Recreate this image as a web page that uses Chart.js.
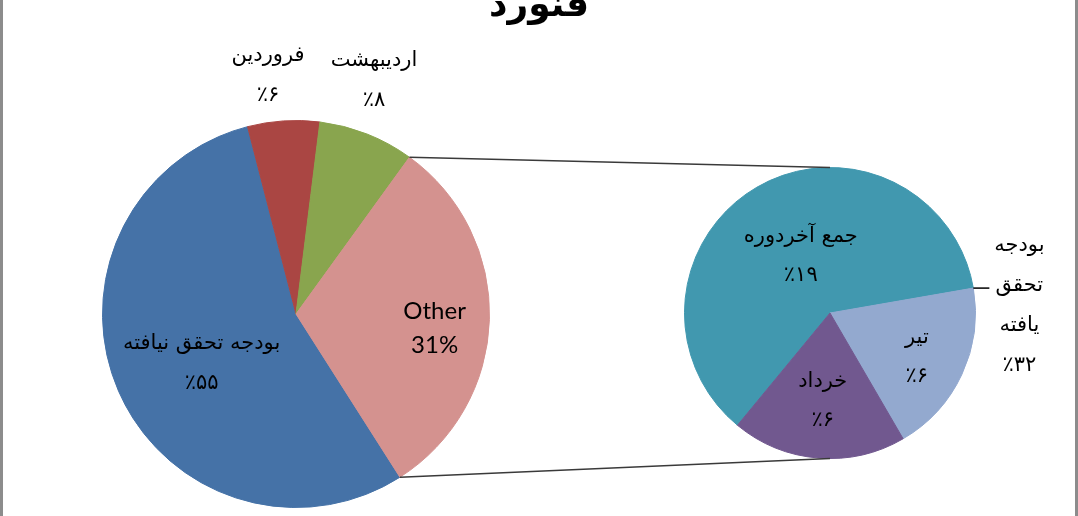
<!DOCTYPE html>
<html>
<head>
<meta charset="utf-8">
<script src="https://cdn.jsdelivr.net/npm/chart.js@4.4.1/dist/chart.umd.min.js"></script>
<style>
  html, body { margin: 0; padding: 0; background: #fff; }
  #wrap { position: relative; width: 1078px; height: 516px; overflow: hidden; background: #fff; }
  #wrap canvas { position: absolute; }
  #frameL { position: absolute; left: 0; top: 0; width: 3px; height: 516px; background: #8c8c8c; }
  #frameR { position: absolute; left: 1075px; top: 0; width: 3px; height: 516px; background: #8c8c8c; }
</style>
</head>
<body>
<div id="wrap">
  <canvas id="mainPie" width="388" height="388" style="left:102px;top:120px"></canvas>
  <canvas id="subPie" width="292" height="292" style="left:684px;top:167px"></canvas>
  <canvas id="overlay" width="1078" height="516" style="left:0;top:0;pointer-events:none"></canvas>
  <div id="frameL"></div>
  <div id="frameR"></div>
</div>
<script>
// ---- data ----
const chartTitle = 'فنورد';
const mainLabels = ['بودجه تحقق نیافته', 'فروردین', 'اردیبهشت', 'Other'];
const mainValues = [55, 6, 8, 31];
const mainPctText = ['٪۵۵', '٪۶', '٪۸', '31%'];
const subLabels = ['جمع آخردوره', 'تیر', 'خرداد'];
const subValues = [19, 6, 6];
const subPctText = ['٪۱۹', '٪۶', '٪۶'];
const extraLabelLines = ['بودجه', 'تحقق', 'یافته', '٪۳۲'];

// ---- styles ----
const mainColors = ['#4572A7', '#AA4643', '#89A54E', '#D4928F'];
const subColors = ['#4198AF', '#93A9CF', '#71588F'];
const arabicFont = '21px "DejaVu Sans"';
const latinFont = '24px Lato';
// label placement: radial fraction of radius and angle shift (deg) from slice middle
const mainLabelPos = [{r: 0.55, da: -4}, {r: 1.24, da: -3}, {r: 1.27, da: -3}, {r: 0.72, da: 4}];
const subLabelPos = [{r: 0.44, da: 3}, {r: 0.67, da: 2}, {r: 0.61, da: 0}];

function pieConfig(labels, values, colors, rotation) {
  return {
    type: 'pie',
    data: { labels: labels, datasets: [{ data: values, backgroundColor: colors, borderColor: colors, borderWidth: 1 }] },
    options: {
      responsive: false, animation: false, rotation: rotation,
      layout: { padding: 0 },
      plugins: { legend: { display: false }, tooltip: { enabled: false }, title: { display: false } },
      events: []
    }
  };
}

const mainChart = new Chart(document.getElementById('mainPie'), pieConfig(mainLabels, mainValues, mainColors, 147.5));
const subChart = new Chart(document.getElementById('subPie'), pieConfig(subLabels, subValues, subColors, 219.5));

function arcProps(chart, i) {
  const arc = chart.getDatasetMeta(0).data[i];
  const c = chart.canvas;
  return {
    x: arc.x + c.offsetLeft,
    y: arc.y + c.offsetTop,
    startAngle: arc.startAngle,
    endAngle: arc.endAngle,
    outerRadius: arc.outerRadius
  };
}

function drawLines(ctx, lines, fonts, cx, cy, lh) {
  const n = lines.length;
  lines.forEach((t, k) => {
    ctx.font = fonts[k];
    ctx.fillText(t, cx, cy + (k - (n - 1) / 2) * lh);
  });
}

function drawOverlay() {
  const ctx = document.getElementById('overlay').getContext('2d');
  ctx.clearRect(0, 0, 1078, 516);
  ctx.fillStyle = '#000';
  ctx.textAlign = 'center';
  ctx.textBaseline = 'middle';

  // title (cut off at top as in the reference)
  ctx.font = 'bold 36px "DejaVu Sans"';
  ctx.textBaseline = 'alphabetic';
  ctx.fillText(chartTitle, 539, 16);
  ctx.textBaseline = 'middle';

  // connector lines from "Other" slice to secondary pie
  const other = arcProps(mainChart, 3);
  const sub0 = arcProps(subChart, 0);
  ctx.strokeStyle = '#3a3a3a';
  ctx.lineWidth = 1.5;
  ctx.beginPath();
  ctx.moveTo(other.x + Math.cos(other.startAngle) * other.outerRadius, other.y + Math.sin(other.startAngle) * other.outerRadius);
  ctx.lineTo(sub0.x, sub0.y - sub0.outerRadius);
  ctx.moveTo(other.x + Math.cos(other.endAngle) * other.outerRadius, other.y + Math.sin(other.endAngle) * other.outerRadius);
  ctx.lineTo(sub0.x, sub0.y + sub0.outerRadius);
  ctx.stroke();

  // main pie labels
  mainValues.forEach((v, i) => {
    const p = arcProps(mainChart, i);
    const a = (p.startAngle + p.endAngle) / 2 + mainLabelPos[i].da * Math.PI / 180;
    const r = p.outerRadius * mainLabelPos[i].r;
    const cx = p.x + Math.cos(a) * r, cy = p.y + Math.sin(a) * r;
    if (i === 3) drawLines(ctx, [mainLabels[i], mainPctText[i]], [latinFont, latinFont], cx, cy, 34);
    else drawLines(ctx, [mainLabels[i], mainPctText[i]], [arabicFont, arabicFont], cx, cy, 40);
  });

  // secondary pie labels
  subValues.forEach((v, i) => {
    const p = arcProps(subChart, i);
    const a = (p.startAngle + p.endAngle) / 2 + subLabelPos[i].da * Math.PI / 180;
    const r = p.outerRadius * subLabelPos[i].r;
    const cx = p.x + Math.cos(a) * r, cy = p.y + Math.sin(a) * r;
    drawLines(ctx, [subLabels[i], subPctText[i]], [arabicFont, arabicFont], cx, cy, 39);
  });

  // outside label with leader line at end of first secondary slice
  const ax = sub0.x + Math.cos(sub0.endAngle) * sub0.outerRadius;
  const ay = sub0.y + Math.sin(sub0.endAngle) * sub0.outerRadius;
  ctx.strokeStyle = '#000';
  ctx.lineWidth = 1.5;
  ctx.beginPath();
  ctx.moveTo(ax, ay);
  ctx.lineTo(ax + 16, ay);
  ctx.stroke();
  drawLines(ctx, extraLabelLines, extraLabelLines.map(() => arabicFont), ax + 46, ay + 17, 40);
}
drawOverlay();
</script>
</body>
</html>
